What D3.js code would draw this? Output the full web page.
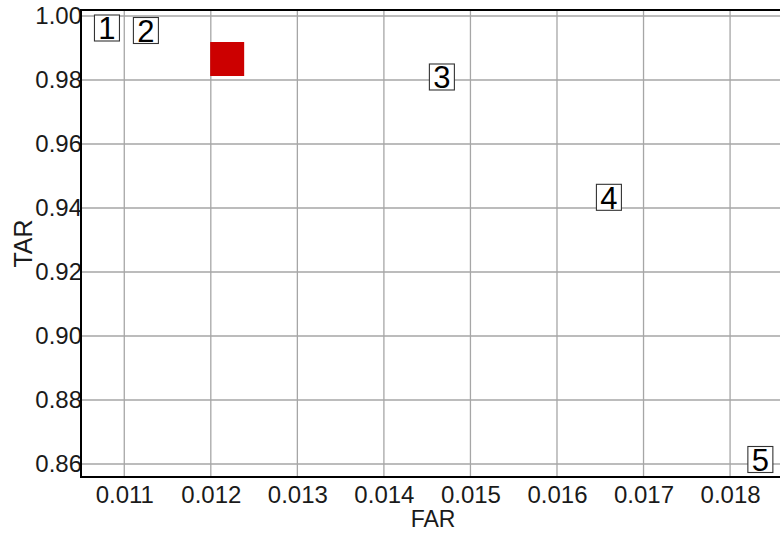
<!DOCTYPE html>
<html>
<head>
<meta charset="utf-8">
<script src="https://cdn.jsdelivr.net/npm/d3@7"></script>
<style>
  html, body { margin: 0; padding: 0; background: #fff; }
  svg { display: block; font-family: "Liberation Sans", Arial, sans-serif; }
</style>
</head>
<body>
<svg id="chart" width="780" height="534"></svg>
<script>
// ---- data ----
const pointLabels = ["1", "2", "3", "4", "5"];
const farValues = [0.01080, 0.01125, 0.01467, 0.01660, 0.01835];
const tarValues = [0.99625, 0.99547, 0.98094, 0.94334, 0.86141];
const highlightFar = [0.012189];
const highlightTar = [0.98656];
const xTicks = [0.011, 0.012, 0.013, 0.014, 0.015, 0.016, 0.017, 0.018];
const yTicks = [0.86, 0.88, 0.90, 0.92, 0.94, 0.96, 0.98, 1.00];
const xTitle = "FAR";
const yTitle = "TAR";

// ---- layout ----
const mL = 81, mR = 782, mT = 10, mB = 477;
const svg = d3.select("#chart");

const x = d3.scaleLinear().domain([0.0105, 0.0186]).range([mL, mR]);
const y = d3.scaleLinear().domain([0.85594, 1.001875]).range([mB, mT]);

// grid
const grid = svg.append("g");
grid.selectAll("line.vx").data(xTicks).join("line").attr("class", "vx")
  .attr("x1", d => x(d)).attr("x2", d => x(d))
  .attr("y1", mT).attr("y2", mB)
  .attr("stroke", "#a6a6a6").attr("stroke-width", 1.3);
grid.selectAll("line.hy").data(yTicks).join("line").attr("class", "hy")
  .attr("x1", mL).attr("x2", 780)
  .attr("y1", d => y(d)).attr("y2", d => y(d))
  .attr("stroke", "#a6a6a6").attr("stroke-width", 1.3);

// axes
const xAxis = d3.axisBottom(x).tickValues(xTicks).tickFormat(d3.format(".3f")).tickSize(0).tickPadding(9);
const yAxis = d3.axisLeft(y).tickValues(yTicks).tickFormat(d3.format(".2f")).tickSize(0).tickPadding(-1);

const gx = svg.append("g").attr("transform", `translate(0,${mB})`).call(xAxis);
gx.select(".domain").remove();
gx.selectAll("text").attr("font-size", 24).attr("fill", "#1a1a1a").attr("font-family", "Liberation Sans, Arial, sans-serif");

const gy = svg.append("g").attr("transform", `translate(${mL},0)`).call(yAxis);
gy.select(".domain").remove();
gy.selectAll("text").attr("font-size", 24).attr("fill", "#1a1a1a").attr("font-family", "Liberation Sans, Arial, sans-serif");

// frame lines
svg.append("line").attr("x1", mL).attr("x2", 780).attr("y1", mT).attr("y2", mT)
  .attr("stroke", "#000").attr("stroke-width", 2);
svg.append("line").attr("x1", mL).attr("x2", 780).attr("y1", mB).attr("y2", mB)
  .attr("stroke", "#000").attr("stroke-width", 2);
svg.append("line").attr("x1", mL).attr("x2", mL).attr("y1", mT - 1).attr("y2", mB + 1)
  .attr("stroke", "#000").attr("stroke-width", 2);

// axis titles
svg.append("text").attr("x", 433).attr("y", 527)
  .attr("text-anchor", "middle").attr("font-size", 23).attr("fill", "#1a1a1a").text(xTitle);
svg.append("text").attr("transform", `translate(32,${(mT + mB) / 2}) rotate(-90)`)
  .attr("text-anchor", "middle").attr("font-size", 25).attr("fill", "#1a1a1a").text(yTitle);

// highlight (red square)
const hs = 34;
svg.selectAll("rect.hl").data(highlightFar.map((f, i) => ({ f, t: highlightTar[i] }))).join("rect")
  .attr("class", "hl")
  .attr("x", d => x(d.f) - hs / 2).attr("y", d => y(d.t) - hs / 2)
  .attr("width", hs).attr("height", hs).attr("fill", "#cc0000");

// labelled points
const pts = pointLabels.map((l, i) => ({ l, f: farValues[i], t: tarValues[i] }));
const bw = 25, bh = 26;
const pg = svg.selectAll("g.pt").data(pts).join("g").attr("class", "pt")
  .attr("transform", d => `translate(${x(d.f)},${y(d.t)})`);
pg.append("rect").attr("x", -bw / 2).attr("y", -bh / 2).attr("width", bw).attr("height", bh)
  .attr("fill", "#fff").attr("stroke", "#333").attr("stroke-width", 1.1);
pg.append("text").attr("text-anchor", "middle").attr("y", 11.2)
  .attr("font-size", 31).attr("fill", "#000").text(d => d.l);
</script>
</body>
</html>
